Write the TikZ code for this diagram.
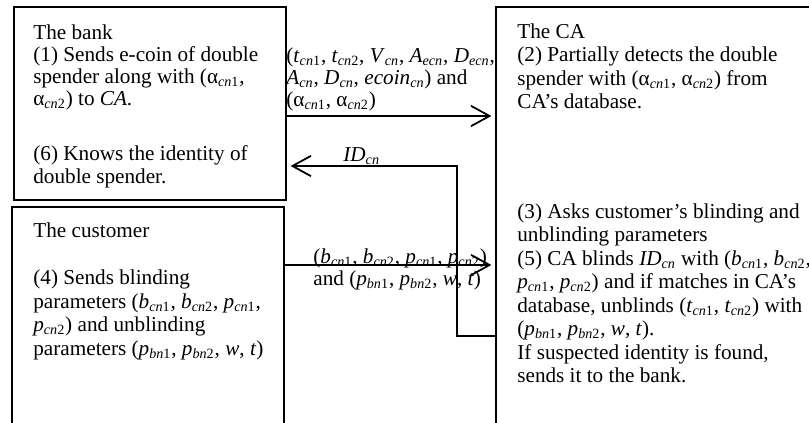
\documentclass[tikz,border=0pt]{standalone}
\usepackage{fontspec}
\setmainfont{Liberation Serif}
\usetikzlibrary{fit, arrows.meta}
\newcommand{\cn}[2]{\textit{#1}\textsubscript{\textit{cn}#2}}
\newcommand{\bn}[2]{\textit{#1}\textsubscript{\textit{bn}#2}}
\newcommand{\ecn}[1]{\textit{#1}\textsubscript{\textit{ecn}}}
\newcommand{\acn}[1]{α\textsubscript{\textit{cn}#1}}
\tikzset{
party/.style={draw, line width=0.8pt, inner sep=0}, note/.style={align=left, inner sep=0, anchor=north west, font=\fontsize{12}{13.3}\selectfont}, tight/.style={font=\fontsize{12}{12.5}\selectfont}, msg/.style={line width=1pt, -{Straight Barb[length=10.5pt, width=11.5pt]}, shorten >=2.2pt}}

\begin{document}
\begin{tikzpicture}[x=0.566pt, y=-0.566pt]
\useasboundingbox (0,0) rectangle (809,423);
\clip (0,0) rectangle (809,423);
\node [party, fit={(14,7) (286,200)}] (bank) {};
\node [party, fit={(12,207) (284,440)}] (customer) {};
\node [party, fit={(496,7) (830,440)}] (ca) {};
\node [note, tight] at (33,24) (banktxt) {The bank\\(1) Sends e-coin of double\\spender along with (\acn{1},\\\acn{2}) to \textit{CA}.\\[19pt](6) Knows the identity of\\double spender.};
\node [note] at (33,222.5) (custxt) {The customer\\[13.3pt](4) Sends blinding\\parameters (\cn{b}{1}, \cn{b}{2}, \cn{p}{1},\\\cn{p}{2}) and unblinding\\parameters (\bn{p}{1}, \bn{p}{2}, \textit{w}, \textit{t})};
\node [note] at (517,23) (catop) {The CA\\(2) Partially detects the double\\spender with (\acn{1}, \acn{2}) from\\CA’s database.};
\node [note] at (517,203) (cabot) {(3) Asks customer’s blinding and\\unblinding parameters\\(5) CA blinds \cn{ID}{} with (\cn{b}{1}, \cn{b}{2},\\\cn{p}{1}, \cn{p}{2}) and if matches in CA’s\\database, unblinds (\cn{t}{1}, \cn{t}{2}) with\\(\bn{p}{1}, \bn{p}{2}, \textit{w}, \textit{t}).\\If suspected identity is found,\\sends it to the bank.};
\node [note, tight] at (286,47) (coinlbl) {(\cn{t}{1}, \cn{t}{2}, \cn{V}{}, \ecn{A}, \ecn{D},\\\cn{A}{}, \cn{D}{}, \cn{ecoin}{}) and\\(\acn{1}, \acn{2})};
\node [note] at (343,147) (idlbl) {\cn{ID}{}};
\node [note, font=\fontsize{12}{12.8}\selectfont] at (313,248) (paramlbl) {(\cn{b}{1}, \cn{b}{2}, \cn{p}{1}, \cn{p}{2})\\and (\bn{p}{1}, \bn{p}{2}, \textit{w}, \textit{t})};
\coordinate (turn) at (457,166);
\draw [msg] (bank.east |- 0,116) -- (ca.west |- 0,116);
\draw [msg] (ca.west |- 0,336) -| (turn) -- (bank.east |- turn);
\draw [msg] (customer.east |- 0,265) -- (ca.west |- 0,265);
\end{tikzpicture}
\end{document}
